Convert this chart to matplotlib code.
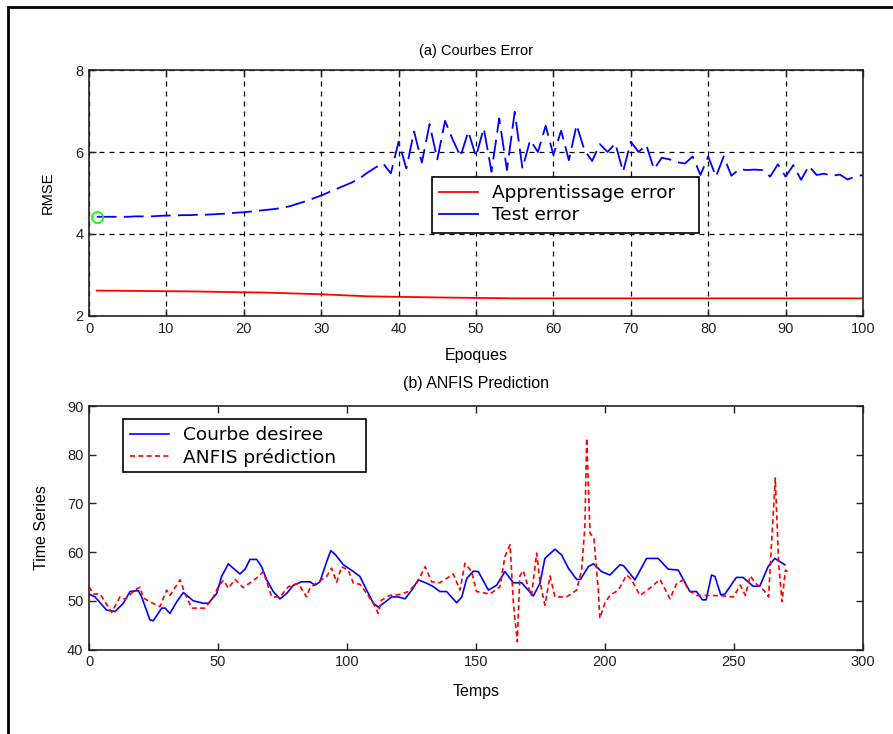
import matplotlib
matplotlib.use("Agg")
import matplotlib.pyplot as plt
from matplotlib.patches import Rectangle
import numpy as np

plt.rcParams['font.family'] = ['Liberation Sans', 'DejaVu Sans']

# ---------------- data: (a) error curves ----------------
epochs_train = [1, 13, 23, 30, 36, 46, 55, 100]
rmse_train = [2.62, 2.60, 2.57, 2.53, 2.48, 2.45, 2.43, 2.43]

epochs_test = list(range(1, 101))
rmse_test = [4.42, 4.42, 4.42, 4.42, 4.42, 4.43, 4.43, 4.43, 4.44, 4.45,
             4.45, 4.46, 4.46, 4.47, 4.47, 4.48, 4.49, 4.50, 4.52, 4.53,
             4.55, 4.57, 4.59, 4.61, 4.64, 4.68, 4.74, 4.80, 4.87, 4.94,
             5.02, 5.10, 5.18, 5.26, 5.36, 5.50, 5.62, 5.72, 5.48, 6.25,
             5.60, 6.50, 5.74, 6.68, 5.82, 6.76, 6.30, 5.89, 6.50, 5.89,
             6.58, 5.52, 6.82, 5.56, 6.98, 5.60, 6.29, 6.00, 6.64, 5.93,
             6.52, 5.80, 6.66, 6.05, 5.78, 6.19, 6.00, 6.21, 5.52, 6.25,
             6.00, 6.17, 5.58, 5.86, 5.82, 5.75, 5.72, 5.89, 5.44, 5.89,
             5.40, 5.89, 5.42, 5.58, 5.56, 5.57, 5.56, 5.40, 5.70, 5.40,
             5.68, 5.32, 5.66, 5.44, 5.47, 5.42, 5.45, 5.33, 5.40, 5.44]

# ---------------- data: (b) ANFIS prediction ----------------
t_des = [0, 2.3, 6.8, 10.1, 13.3, 15.9, 19.1, 20.4, 23.6, 24.9, 28.2, 29.5, 31.4,
         34.0, 36.6, 40.4, 44.3, 46.3, 49.5, 51.4, 54.0, 55.9, 58.5, 60.5, 62.4,
         65.0, 66.9, 68.9, 71.4, 74.0, 76.6, 79.2, 82.4, 85.7, 87.6, 89.5, 92.1,
         93.7, 95.3, 98.6, 102.5, 105.0, 107.6, 110.2, 112.1, 114.7, 117.3, 119.9,
         122.5, 125.1, 127.6, 130.9, 133.5, 136.0, 138.6, 142.5, 144.5, 146.4,
         149.0, 150.9, 154.8, 158.0, 161.2, 164.5, 167.7, 172.2, 174.8, 176.7,
         180.6, 183.2, 185.8, 189.0, 190.5, 193.5, 195.5, 198.7, 201.9, 205.8,
         207.2, 211.6, 216.1, 220.6, 224.5, 228.4, 232.9, 235.5, 237.7, 239.2,
         241.3, 242.6, 244.9, 246.5, 250.9, 253.5, 257.4, 260.0, 263.2, 265.8,
         269.7]
y_des = [51.4, 50.8, 48.1, 47.8, 49.5, 51.9, 52.1, 50.8, 46.1, 45.9, 48.5, 48.5, 47.4,
         49.8, 51.7, 50.0, 49.5, 49.5, 51.5, 55.0, 57.6, 56.7, 55.5, 56.5, 58.5,
         58.5, 57.0, 54.3, 51.9, 50.4, 51.5, 53.2, 53.9, 53.9, 53.2, 53.9, 58.0,
         60.3, 59.6, 57.4, 56.0, 55.0, 52.2, 49.5, 48.7, 49.7, 50.8, 50.8,
         50.4, 52.2, 54.3, 53.6, 52.9, 51.9, 51.9, 49.6, 50.8, 54.6,
         56.1, 56.0, 52.2, 53.2, 56.0, 53.7, 53.7, 51.0, 53.6, 58.7,
         60.6, 59.4, 56.7, 54.4, 54.4, 57.0, 57.6, 56.0, 55.3, 57.4,
         57.2, 54.3, 58.7, 58.7, 56.5, 56.3, 51.9, 51.9, 50.2, 50.2,
         55.3, 55.0, 51.2, 51.4, 54.8, 54.8, 53.0, 53.0, 57.0, 58.7,
         57.4]

t_pred = [0, 1.7, 4.3, 8.8, 12.0, 14.0, 17.8, 19.8, 21.0, 24.3, 27.5, 30.1, 31.4,
          35.3, 37.2, 39.8, 45.0, 48.2, 50.1, 52.1, 54.0, 56.6, 59.8, 62.4, 65.0,
          67.6, 70.8, 74.0, 77.3, 81.1, 84.3, 85.6, 88.2, 90.1, 92.1, 94.0, 96.0,
          97.9, 100.5, 102.5, 105.0, 107.6, 110.2, 112.1, 113.3, 116.6, 120.5,
          123.8, 127.0, 130.3, 132.8, 136.0, 141.2, 143.8, 145.7, 148.3, 150.2,
          155.4, 159.3, 161.2, 163.2, 164.5, 166.0, 167.0, 168.3, 169.6, 171.5,
          173.5, 174.8, 176.7, 178.7, 180.6, 185.1, 189.0, 190.9, 192.2, 192.9,
          194.2, 195.7, 197.4, 198.0, 200.0, 201.9, 205.2, 208.4, 210.3, 213.6,
          217.4, 221.3, 225.2, 227.8, 230.4, 232.3, 235.5, 238.0, 241.8, 245.9,
          249.8, 252.4, 254.4, 256.3, 258.2, 261.5, 263.4, 264.7, 266.0, 267.3,
          268.6, 269.9, 270.8]
y_pred = [52.9, 51.4, 51.4, 47.6, 50.8, 50.3, 52.2, 52.8, 50.6, 49.6, 48.8, 52.2, 51.1,
          54.3, 51.5, 48.5, 48.5, 50.8, 52.9, 54.2, 52.6, 54.4, 52.7, 53.7, 54.7,
          56.0, 50.8, 50.8, 52.9, 53.6, 50.8, 52.6, 53.7, 54.3, 55.0, 56.7, 53.8,
          57.0, 56.3, 53.6, 53.4, 51.5, 49.5, 47.4, 50.1, 51.1, 51.3,
          51.9, 53.6, 57.0, 53.9, 53.7, 55.5, 52.2, 57.7, 56.0, 51.9,
          51.4, 52.9, 59.1, 61.5, 49.5, 41.6, 55.1, 56.2, 53.9, 51.1,
          59.8, 53.9, 49.1, 55.1, 50.8, 50.8, 52.2, 56.2, 65.2, 83.4,
          63.9, 62.8, 52.2, 46.4, 49.6, 51.1, 52.2, 55.3, 54.3, 51.1,
          52.6, 54.4, 50.4, 53.6, 54.3, 52.2, 51.1, 51.1, 51.1, 51.0,
          50.8, 53.2, 51.1, 55.1, 53.7, 52.2, 50.8, 63.2, 75.2, 57.7,
          49.8, 56.3, 56.0]

xticks_a = [0, 10, 20, 30, 40, 50, 60, 70, 80, 90, 100]
yticks_a = [2, 4, 6, 8]
xticks_b = [0, 50, 100, 150, 200, 250, 300]
yticks_b = [40, 50, 60, 70, 80, 90]

W, H = 893, 734
fig = plt.figure(figsize=(W / 100, H / 100), dpi=100)

def fr(x0, y0, x1, y1):
    return [x0 / W, 1 - y1 / H, (x1 - x0) / W, (y1 - y0) / H]

fs = 10.5
spine_c = '#222222'

def style(ax):
    ax.tick_params(direction='in', top=True, right=True, length=5, width=1,
                   labelsize=fs, colors=spine_c, pad=4)
    for s in ax.spines.values():
        s.set_linewidth(1.2)
        s.set_color(spine_c)

leg_kw = dict(loc='upper left', frameon=False,
              handlelength=2.1, borderpad=0.4, labelspacing=0.2,
              handletextpad=0.75, borderaxespad=0,
              prop={'family': 'DejaVu Sans', 'size': 13.3})

def legend_box(ax, x0, y0, x1, y1):
    # MATLAB-style legend box (wider than the text), in axes fractions
    ax.add_patch(Rectangle((x0, y0), x1 - x0, y1 - y0, transform=ax.transAxes,
                           facecolor='white', edgecolor='black', linewidth=1.2,
                           zorder=4.9, clip_on=False))

# ---------- (a) ----------
ax1 = fig.add_axes(fr(89, 70, 863, 316))
ax1.plot(epochs_train, rmse_train, color='#ff0000', lw=1.3, label='Apprentissage error')
ax1.plot(epochs_test, rmse_test, color='#0000ff', lw=1.3, dashes=(11, 4),
         label='Test error')
ax1.plot([epochs_test[0]], [rmse_test[0]], 'o', mfc='none', mec='#00ff00', ms=8, mew=1.2)
ax1.set_xlim(0, 100)
ax1.set_ylim(2, 8)
ax1.set_xticks(xticks_a)
ax1.set_yticks(yticks_a)
ax1.grid(True, color='black', linestyle=(0, (4, 4)), linewidth=0.9)
style(ax1)
ax1.set_title('(a) Courbes Error', fontsize=fs, pad=11)
ax1.set_xlabel('Epoques', fontsize=11.5, labelpad=9)
ax1.set_ylabel('RMSE', fontsize=fs, labelpad=15)
leg1 = ax1.legend(bbox_to_anchor=((432 - 89) / 774, 1 - (177 - 70) / 246), **leg_kw)
for h in leg1.get_lines():
    h.set_linestyle('-')
legend_box(ax1, (432 - 89) / 774, 1 - (233 - 70) / 246,
           (699 - 89) / 774, 1 - (177 - 70) / 246)

# ---------- (b) ----------
ax2 = fig.add_axes(fr(89, 406, 863, 649.5))
ax2.plot(t_des, y_des, color='#0000ff', lw=1.2, label='Courbe desiree')
ax2.plot(t_pred, y_pred, color='#ff0000', lw=1.2, linestyle=(0, (3, 2)),
         label='ANFIS prédiction')
ax2.set_xlim(0, 300)
ax2.set_ylim(40, 90)
ax2.set_xticks(xticks_b)
ax2.set_yticks(yticks_b)
style(ax2)
ax2.set_title('(b) ANFIS Prediction', fontsize=11.5, pad=13)
ax2.set_xlabel('Temps', fontsize=11.5, labelpad=11)
ax2.set_ylabel('Time Series', fontsize=11.5, labelpad=13)
leg2 = ax2.legend(bbox_to_anchor=((123 - 89) / 774, 1 - (419 - 406) / 243.5), **leg_kw)
legend_box(ax2, (123 - 89) / 774, 1 - (472 - 406) / 243.5,
           (366 - 89) / 774, 1 - (419 - 406) / 243.5)

# outer frame
fig.patches.append(Rectangle((8 / W, -0.01), 2, 1 - 7 / H + 0.01,
                             transform=fig.transFigure, fill=False,
                             edgecolor='black', linewidth=2))

fig.savefig('out.png', dpi=100)
